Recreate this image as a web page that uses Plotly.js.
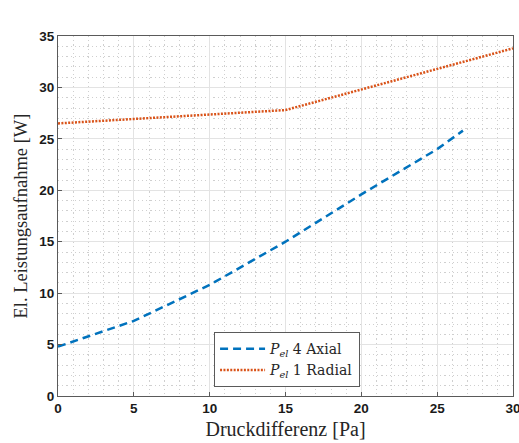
<!DOCTYPE html>
<html>
<head>
<meta charset="utf-8">
<script src="https://cdn.plot.ly/plotly-3.0.1.min.js"></script>
<style>html,body{margin:0;padding:0;background:#fff;}#chart{width:519px;height:443px;}</style>
</head>
<body>
<div id="chart"></div>
<script>
const axialX = [0, 5, 10, 15, 20, 25, 26.7];
const axialY = [4.8, 7.3, 10.8, 15.0, 19.6, 24.0, 25.8];
const radialX = [0, 15, 30];
const radialY = [26.5, 27.8, 33.8];
const seriesNames = ['<i>P</i><sub><i>el</i></sub> 4 Axial', '<i>P</i><sub><i>el</i></sub> 1 Radial'];
const xTicks = [0, 5, 10, 15, 20, 25, 30];
const yTicks = [0, 5, 10, 15, 20, 25, 30, 35];

const traces = [
  {x: axialX, y: axialY, name: seriesNames[0], mode: 'lines',
   line: {color: '#0072BD', width: 2.5, dash: '8px,5px'}},
  {x: radialX, y: radialY, name: seriesNames[1], mode: 'lines',
   line: {color: '#D95319', width: 2.5, dash: '2px,1.4px'}}
];

const axisCommon = {
  showline: true, mirror: true, linecolor: '#5a5a5a', linewidth: 1,
  ticks: 'inside', ticklen: 4, tickcolor: '#5a5a5a',
  showgrid: true, gridcolor: '#e3e3e3', gridwidth: 1,
  zeroline: false,
  ticklabeloverflow: 'allow',
  tickfont: {family: 'Liberation Sans, Arial, sans-serif', size: 13.5, color: '#1a1a1a', weight: 'bold'},
  minor: {dtick: 1, showgrid: true, gridcolor: '#cfcfcf', griddash: '1.2px,3px', gridwidth: 1, ticks: ''}
};

const layout = {
  width: 519, height: 443,
  margin: {l: 58, r: 6, t: 36, b: 47},
  paper_bgcolor: '#fff', plot_bgcolor: '#fff',
  showlegend: true,
  xaxis: Object.assign({}, axisCommon, {
    range: [0, 30], tickvals: xTicks, ticktext: xTicks.map(String),
    title: {text: 'Druckdifferenz [Pa]', standoff: 6,
            font: {family: 'Liberation Serif, DejaVu Serif, serif', size: 20, color: '#262626'}}
  }),
  yaxis: Object.assign({}, axisCommon, {
    range: [0, 35], tickvals: yTicks, ticktext: yTicks.map(String),
    title: {text: 'El. Leistungsaufnahme [W]', standoff: 6,
            font: {family: 'Liberation Serif, DejaVu Serif, serif', size: 18.5, color: '#262626'}}
  }),
  legend: {
    x: 0.343, y: 0.101, xanchor: 'left', yanchor: 'middle',
    bgcolor: '#ffffff', bordercolor: '#5a5a5a', borderwidth: 1,
    font: {family: 'DejaVu Serif, serif', size: 14, color: '#262626'},
    tracegroupgap: 0, itemwidth: 45
  }
};

Plotly.newPlot('chart', traces, layout, {displayModeBar: false, staticPlot: true});
</script>
</body>
</html>
